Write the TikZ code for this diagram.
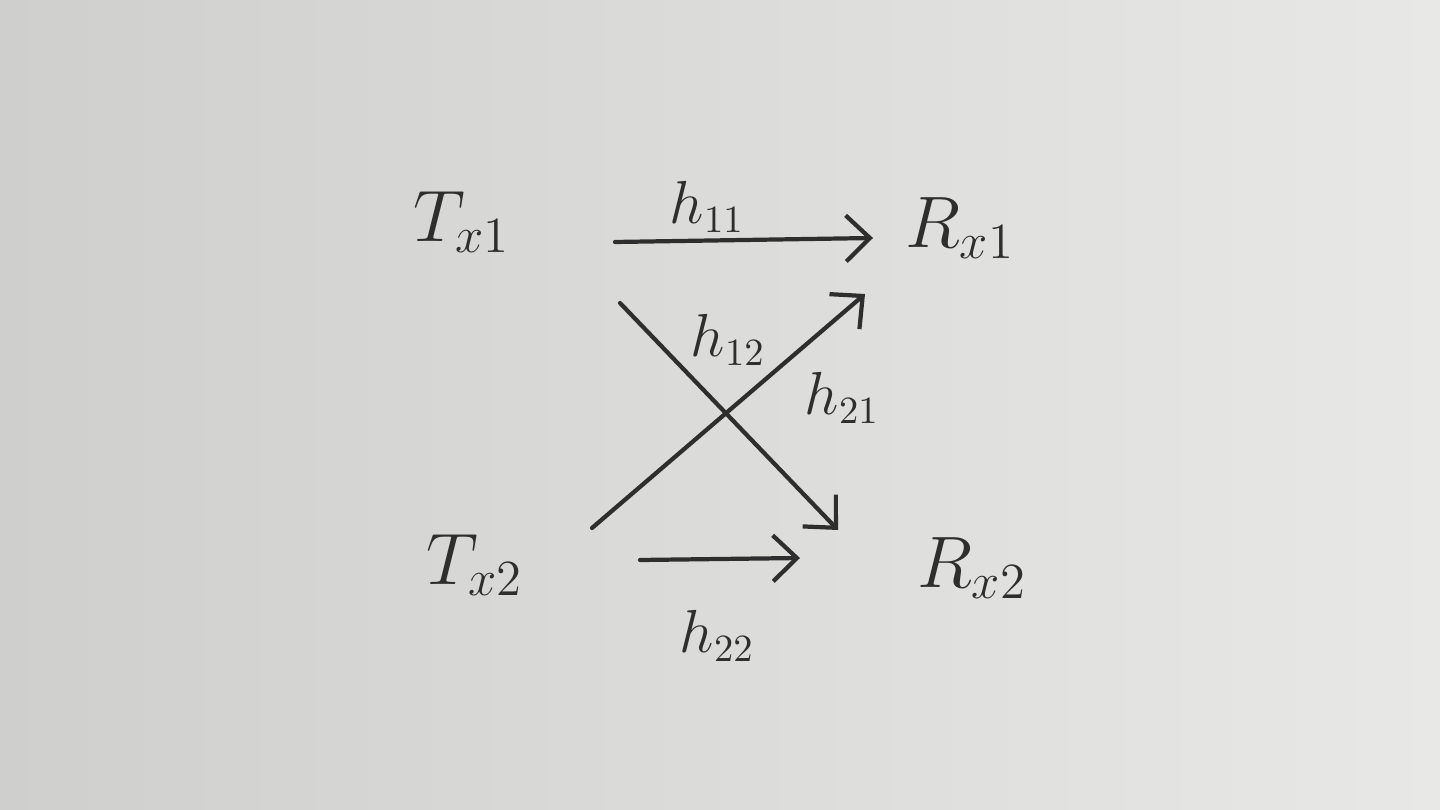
\documentclass[tikz,border=0pt]{standalone}
\usepackage{amsmath}
\usetikzlibrary{arrows.meta,calc}
\definecolor{paper}{HTML}{E8E8E6}
\definecolor{paperdark}{HTML}{CFCFCD}
\definecolor{ink}{HTML}{2E2E2E}

\begin{document}
\begin{tikzpicture}[x=0.01cm, y=-0.01cm,
	terminal/.style={text=ink, font=\fontsize{22}{26}\selectfont},
	gain/.style={text=ink, font=\fontsize{16}{19}\selectfont},
	link/.style={draw=ink, line width=1.2pt, line cap=round, -{Straight Barb[length=2.4mm,width=4.6mm]}}]
	\shade[left color=paperdark, right color=paper] (0,0) rectangle (1440,810);
	\useasboundingbox (0,0) rectangle (1440,810);
	% transmitters and receivers
	\node[terminal] (tx1) at (462,222) {$T_{x1}$};
	\node[terminal] (rx1) at (960,228) {$R_{x1}$};
	\node[terminal] (tx2) at (475,565) {$T_{x2}$};
	\node[terminal] (rx2) at (972,568) {$R_{x2}$};
	% channel gains
	\draw[link] ($(tx1)+(153,20)$) -- ($(rx1)+(-87,10)$);
	\draw[link] ($(tx1)+(158,81)$) -- ($(rx2)+(-134,-38)$);
	\draw[link] ($(tx2)+(117,-37)$) -- ($(rx1)+(-95,66)$);
	\draw[link] ($(tx2)+(165,-5)$) -- ($(rx2)+(-172,-10)$);
	\node[gain] (h11) at (707,207) {$h_{11}$};
	\node[gain] (h12) at (728,340) {$h_{12}$};
	\node[gain] (h21) at (842,398) {$h_{21}$};
	\node[gain] (h22) at (717,636) {$h_{22}$};
\end{tikzpicture}
\end{document}
